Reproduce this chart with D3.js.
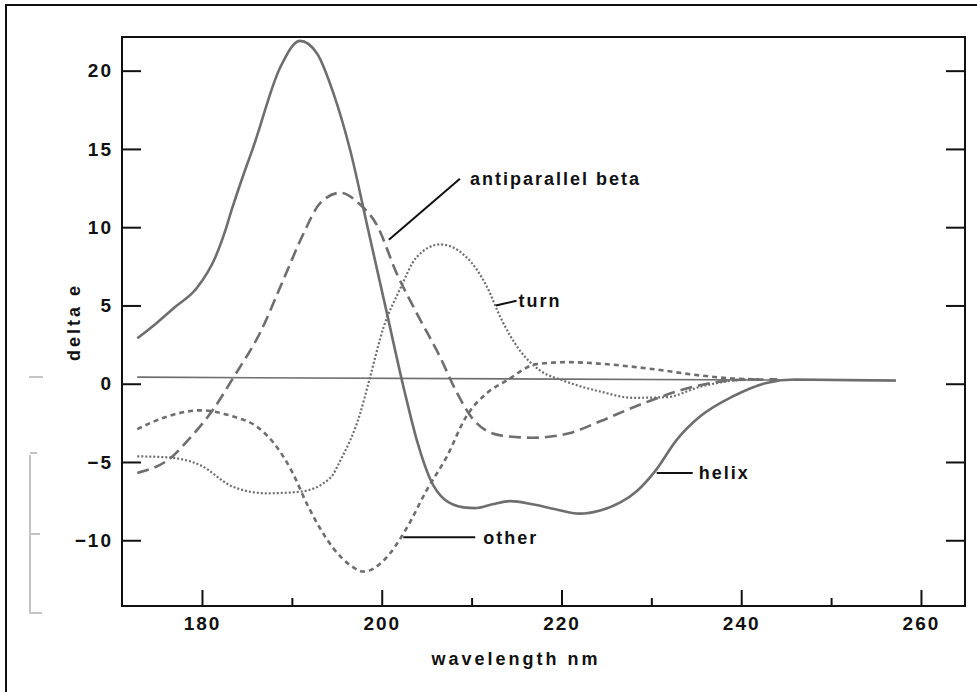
<!DOCTYPE html>
<html>
<head>
<meta charset="utf-8">
<script src="https://cdn.jsdelivr.net/npm/d3@7/dist/d3.min.js"></script>
<style>
  html, body { margin: 0; padding: 0; background: #fff; }
  svg { display: block; }
  text { font-family: "Liberation Sans", Arial, sans-serif; font-weight: bold; fill: #111; }
  .tick text { font-size: 19px; letter-spacing: 2px; }
  .domain { display: none; }
  .tick line { stroke: #111; stroke-width: 2; }
</style>
</head>
<body>
<svg id="chart" width="977" height="692"></svg>
<script>
'use strict';

// wavelength (nm), delta e pairs
const helix = [
  [172.8, 2.9], [175.0, 3.9], [177.0, 4.9], [179.4, 6.1], [181.5, 8.1], [182.6, 9.8],
  [183.3, 11.1], [184.4, 13.0], [185.7, 15.1], [188.7, 20.2], [190.9, 21.9], [192.8, 21.1],
  [194.6, 18.6], [196.5, 14.9], [198.5, 9.8], [200.5, 4.7], [202.5, -0.4], [204.0, -3.8],
  [205.4, -6.1], [207.0, -7.4], [209.1, -7.9], [210.4, -7.95], [212.3, -7.7], [214.3, -7.5],
  [216.8, -7.7], [219.2, -8.0], [222.0, -8.3], [224.3, -8.1], [226.5, -7.6], [228.5, -6.8],
  [230.4, -5.6], [232.8, -3.6], [235.4, -2.1], [239.1, -0.8], [242.8, 0.05], [246.0, 0.27],
  [257.2, 0.21]
];
const antiparallelBeta = [
  [172.8, -5.7], [176.8, -4.6], [178.3, -3.7], [181.3, -1.6], [183.5, 0.4], [186.5, 3.3],
  [189.1, 6.7], [191.3, 9.6], [193.1, 11.5], [195.4, 12.2], [197.5, 11.5], [199.4, 10.2],
  [201.7, 7.0], [203.9, 4.5], [206.5, 1.7], [208.3, -0.5], [210.2, -2.3], [213.2, -3.3],
  [216.8, -3.45], [220.6, -3.2], [224.3, -2.4], [227.6, -1.6], [229.8, -1.1], [235.4, -0.1],
  [239.8, 0.25], [244.0, 0.28]
];
const turn = [
  [172.8, -4.64], [176.1, -4.7], [179.8, -5.2], [183.5, -6.6], [187.2, -7.0], [190.9, -6.9],
  [194.3, -6.0], [195.4, -4.9], [197.6, -1.9], [198.6, 0.2], [200.2, 3.6], [202.0, 6.0],
  [203.9, 8.1], [206.5, 8.9], [209.4, 8.1], [211.7, 6.2], [213.2, 4.25], [215.4, 2.1],
  [217.6, 0.85], [220.2, 0.2], [224.3, -0.5], [228.0, -0.9], [231.7, -0.86], [235.4, -0.2],
  [239.1, 0.2], [242.0, 0.28]
];
const other = [
  [172.8, -2.9], [176.1, -2.1], [179.8, -1.7], [183.5, -2.1], [186.0, -2.7], [188.0, -3.8],
  [190.0, -5.6], [191.7, -7.7], [193.1, -9.2], [194.6, -10.5], [196.5, -11.6], [198.0, -12.0],
  [200.2, -11.3], [202.8, -9.2], [205.0, -6.8], [207.2, -4.7], [209.4, -2.1], [211.7, -0.6],
  [213.9, 0.2], [217.2, 1.25], [220.6, 1.38], [224.3, 1.28], [229.8, 0.96], [235.4, 0.53],
  [239.1, 0.33], [242.0, 0.28]
];
const baseline = [[172.8, 0.42], [257.2, 0.2]];

const xMajorTicks = [180, 200, 220, 240, 260];
const xMinorTicks = [190, 210, 230, 250];
const yTicks = [-10, -5, 0, 5, 10, 15, 20];

// label, point on curve [nm, de], leader end [nm, de], gap to text
const annotations = [
  { label: 'antiparallel beta', tip: [200.8, 9.2], end: [208.7, 13.1], gap: 10 },
  { label: 'turn', tip: [212.7, 5.0], end: [215.0, 5.3], gap: 2 },
  { label: 'other', tip: [202.4, -9.8], end: [210.4, -9.8], gap: 8 },
  { label: 'helix', tip: [230.6, -5.7], end: [234.6, -5.7], gap: 6 }
];

const svg = d3.select('#chart');
const plot = { left: 122, right: 965, top: 37, bottom: 606 };

const x = d3.scaleLinear().domain([171.1, 264.9]).range([plot.left, plot.right]);
const y = d3.scaleLinear().domain([-14.2, 22.15]).range([plot.bottom, plot.top]);

// outer (cropped) page border
svg.append('path')
    .attr('d', 'M6,692V5H977')
    .attr('fill', 'none')
    .attr('stroke', '#111')
    .attr('stroke-width', 2);

// faint scan marks at the left edge
svg.append('path')
    .attr('d', 'M30,455V613H42M30,453H37M30,534H40M29,377H43')
    .attr('fill', 'none')
    .attr('stroke', '#c4c4c4')
    .attr('stroke-width', 2);

// axes
svg.append('g')
    .attr('transform', `translate(${plot.left},0)`)
    .call(d3.axisLeft(y).tickValues(yTicks).tickSize(-19).tickPadding(9));

svg.append('g')
    .attr('transform', `translate(${plot.right},0)`)
    .call(d3.axisRight(y).tickValues(yTicks).tickSize(-19).tickFormat(''));

svg.append('g')
    .attr('transform', `translate(0,${plot.bottom})`)
    .call(d3.axisBottom(x).tickValues(xMajorTicks).tickSize(-16).tickPadding(11));

svg.append('g')
    .attr('transform', `translate(0,${plot.bottom})`)
    .call(d3.axisBottom(x).tickValues(xMinorTicks).tickSize(-8).tickFormat(''));

svg.append('rect')
    .attr('x', plot.left)
    .attr('y', plot.top)
    .attr('width', plot.right - plot.left)
    .attr('height', plot.bottom - plot.top)
    .attr('fill', 'none')
    .attr('stroke', '#111')
    .attr('stroke-width', 2);

// axis titles
svg.append('text')
    .attr('x', 516)
    .attr('y', 665)
    .attr('text-anchor', 'middle')
    .style('font-size', '18px')
    .style('letter-spacing', '3px')
    .text('wavelength nm');

svg.append('text')
    .attr('transform', 'translate(80,322) rotate(-90)')
    .attr('text-anchor', 'middle')
    .style('font-size', '18px')
    .style('letter-spacing', '3px')
    .text('delta e');

// curves
const line = d3.line()
    .x(d => x(d[0]))
    .y(d => y(d[1]))
    .curve(d3.curveMonotoneX);

const series = [
  { data: baseline, width: 1.6, dash: null },
  { data: other, width: 2.6, dash: '5,4' },
  { data: turn, width: 2.2, dash: '2,2' },
  { data: antiparallelBeta, width: 2.6, dash: '12,6' },
  { data: helix, width: 2.6, dash: null }
];

svg.append('g')
  .selectAll('path')
  .data(series)
  .join('path')
    .attr('d', d => line(d.data))
    .attr('fill', 'none')
    .attr('stroke', '#6e6e6e')
    .attr('stroke-width', d => d.width)
    .attr('stroke-dasharray', d => d.dash);

// leaders and labels
const notes = svg.append('g')
  .selectAll('g')
  .data(annotations)
  .join('g');

notes.append('line')
    .attr('x1', d => x(d.tip[0]))
    .attr('y1', d => y(d.tip[1]))
    .attr('x2', d => x(d.end[0]))
    .attr('y2', d => y(d.end[1]))
    .attr('stroke', '#111')
    .attr('stroke-width', 2);

notes.append('text')
    .attr('x', d => x(d.end[0]) + d.gap)
    .attr('y', d => y(d.end[1]))
    .attr('dy', '0.36em')
    .style('font-size', '18px')
    .style('letter-spacing', '2px')
    .text(d => d.label);
</script>
</body>
</html>
